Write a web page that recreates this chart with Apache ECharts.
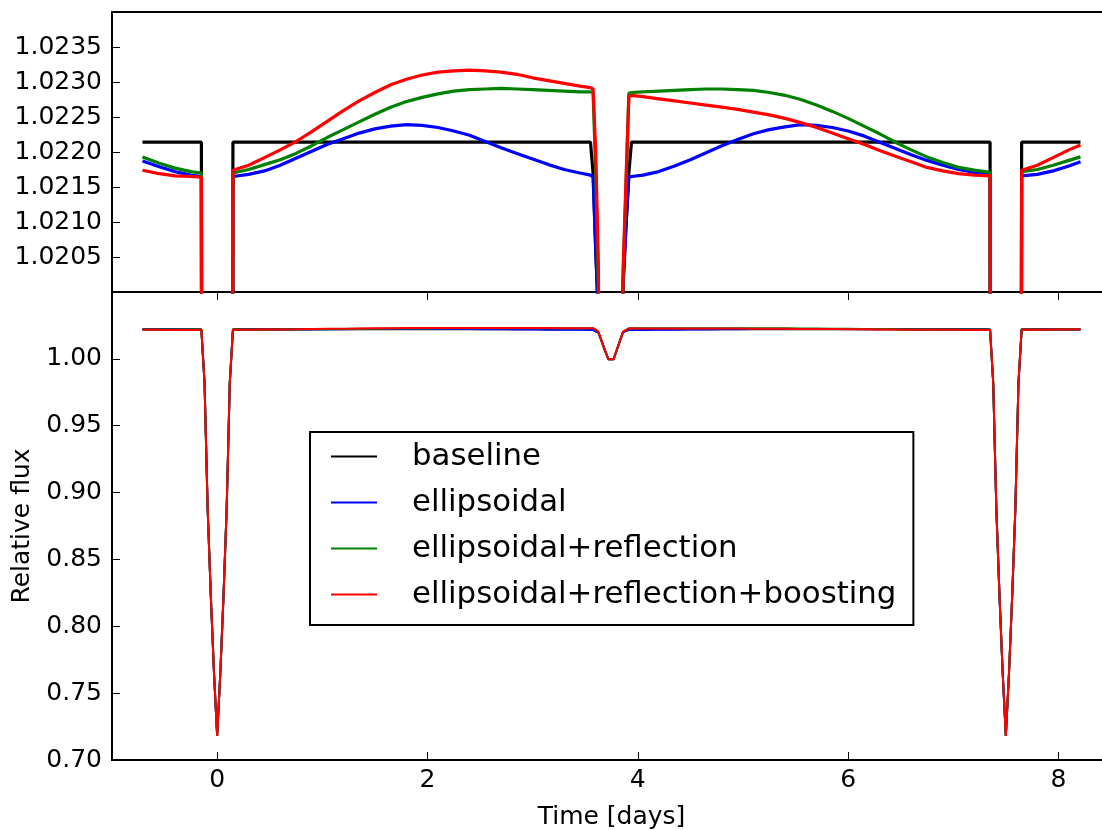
<!DOCTYPE html>
<html>
<head>
<meta charset="utf-8">
<script src="https://cdn.jsdelivr.net/npm/echarts@6/dist/echarts.min.js"></script>
<style>
html,body{margin:0;padding:0;background:#fff;}
#chart{width:1102px;height:830px;}
</style>
</head>
<body>
<div id="chart"></div>
<script>
// ---- data ----
const seriesNames = ['baseline', 'ellipsoidal', 'ellipsoidal+reflection', 'ellipsoidal+reflection+boosting'];
const xTickValues = [0, 2, 4, 6, 8];

const time = [
  -0.71, -0.55, -0.40, -0.25, -0.15,
  -0.12, -0.09, -0.06, -0.03, 0.00, 0.03, 0.06, 0.09, 0.12,
  0.15, 0.30, 0.45, 0.60, 0.75, 0.90, 1.05, 1.20, 1.35, 1.50, 1.65, 1.80,
  1.95, 2.10, 2.25, 2.40, 2.55, 2.70, 2.85, 3.00, 3.15, 3.30, 3.45,
  3.55, 3.575, 3.60, 3.625,
  3.65, 3.68, 3.72, 3.77, 3.80, 3.83,
  3.86, 3.89, 3.915, 3.94,
  4.05, 4.20, 4.35, 4.50, 4.65, 4.80, 4.95, 5.10, 5.25, 5.40, 5.55, 5.70,
  5.85, 6.00, 6.15, 6.30, 6.45, 6.60, 6.75, 6.90, 7.05, 7.20, 7.35,
  7.38, 7.41, 7.44, 7.47, 7.50, 7.53, 7.56, 7.59, 7.62,
  7.65, 7.80, 7.95, 8.10, 8.21
];

const primaryDip = [0.982, 0.887, 0.822, 0.765, 0.718, 0.765, 0.822, 0.887, 0.982];
const secondaryDip = [1.0146, 1.0080, 0.9997, 0.9997, 1.0066, 1.0135];

const baseline = [
  1.02214, 1.02214, 1.02214, 1.02214, 1.02214,
  ...primaryDip,
  1.02214, 1.02214, 1.02214, 1.02214, 1.02214, 1.02214, 1.02214, 1.02214, 1.02214, 1.02214, 1.02214, 1.02214,
  1.02214, 1.02214, 1.02214, 1.02214, 1.02214, 1.02214, 1.02214, 1.02214, 1.02214, 1.02214, 1.02214,
  1.02214, 1.0217, 1.0206, 1.0197,
  ...secondaryDip,
  1.0201, 1.0210, 1.0217, 1.02214,
  1.02214, 1.02214, 1.02214, 1.02214, 1.02214, 1.02214, 1.02214, 1.02214, 1.02214, 1.02214, 1.02214, 1.02214,
  1.02214, 1.02214, 1.02214, 1.02214, 1.02214, 1.02214, 1.02214, 1.02214, 1.02214, 1.02214, 1.02214,
  ...primaryDip,
  1.02214, 1.02214, 1.02214, 1.02214, 1.02214
];

const ellipsoidal = [
  1.02187, 1.02179, 1.02172, 1.02167, 1.02165,
  ...primaryDip,
  1.02165, 1.02168, 1.02173, 1.02181, 1.02191, 1.02201, 1.02211, 1.02219, 1.02227, 1.02233, 1.02237, 1.02239,
  1.02238, 1.02235, 1.02230, 1.02224, 1.02215, 1.02206, 1.02198, 1.02190, 1.02182, 1.02175, 1.02170,
  1.02167, 1.02164, 1.0206, 1.0196,
  ...secondaryDip,
  1.0201, 1.0210, 1.02164, 1.02165,
  1.02167, 1.02172, 1.02180, 1.02189, 1.02199, 1.02209, 1.02218, 1.02226, 1.02232, 1.02236, 1.02239, 1.02238,
  1.02235, 1.02230, 1.02223, 1.02214, 1.02205, 1.02196, 1.02188, 1.02181, 1.02175, 1.02171, 1.02167,
  ...primaryDip,
  1.02166, 1.02168, 1.02173, 1.02180, 1.02186
];

const ellRefl = [
  1.02193, 1.02184, 1.02177, 1.02172, 1.02170,
  ...primaryDip,
  1.02170, 1.02175, 1.02182, 1.02189, 1.02198, 1.02209, 1.02221, 1.02232, 1.02243, 1.02254, 1.02264, 1.02272,
  1.02278, 1.02283, 1.02287, 1.02289, 1.02290, 1.02291, 1.02290, 1.02289, 1.02288, 1.02287, 1.02286,
  1.02286, 1.02285, 1.0217, 1.0201,
  ...secondaryDip,
  1.0202, 1.0216, 1.02284, 1.02285,
  1.02286, 1.02287, 1.02288, 1.02289, 1.02290, 1.02290, 1.02289, 1.02288, 1.02285, 1.02281, 1.02275, 1.02267,
  1.02258, 1.02248, 1.02237, 1.02226, 1.02214, 1.02203, 1.02193, 1.02185, 1.02178, 1.02174, 1.02171,
  ...primaryDip,
  1.02172, 1.02175, 1.02181, 1.02188, 1.02193
];

const ellReflBoost = [
  1.02174, 1.02169, 1.02166, 1.02165, 1.02164,
  ...primaryDip,
  1.02174, 1.02181, 1.02192, 1.02203, 1.02215, 1.02229, 1.02244, 1.02259, 1.02273, 1.02285, 1.02296, 1.02304,
  1.02310, 1.02314, 1.02316, 1.02317, 1.02316, 1.02314, 1.02311, 1.02306, 1.02302, 1.02298, 1.02294,
  1.02292, 1.02290, 1.0220, 1.0204,
  ...secondaryDip,
  1.0203, 1.0217, 1.02279, 1.02281,
  1.02279, 1.02276, 1.02273, 1.02270, 1.02267, 1.02264, 1.02261, 1.02257, 1.02253, 1.02248, 1.02242, 1.02235,
  1.02227, 1.02219, 1.02211, 1.02202, 1.02194, 1.02186, 1.02178, 1.02173, 1.02169, 1.02167, 1.02166,
  ...primaryDip,
  1.02174, 1.02181, 1.02192, 1.02203, 1.02210
];

// ---- chart ----
const colors = ['#000000', '#0000ff', '#008000', '#ff0000'];
const fluxes = [baseline, ellipsoidal, ellRefl, ellReflBoost];
const FONT = 'DejaVu Sans';

function pairs(arr) { return time.map((t, i) => [t, arr[i]]); }

const series = [];
[0, 1].forEach(panel => {
  fluxes.forEach((f, k) => {
    series.push({
      name: seriesNames[k],
      type: 'line',
      xAxisIndex: panel === 0 ? 0 : 1,
      yAxisIndex: panel,
      data: pairs(f),
      showSymbol: false,
      symbol: 'none',
      clip: true,
      color: colors[k],
      lineStyle: { color: colors[k], width: panel === 0 ? 3.2 : 2 },
      itemStyle: { color: colors[k] },
      emphasis: { disabled: true },
      z: 2 + k
    });
  });
});

const tickStyle = { show: true, inside: true, length: 8, lineStyle: { color: '#000', width: 1 } };
const labelText = { fontFamily: FONT, fontSize: 25, color: '#000' };

const chart = echarts.init(document.getElementById('chart'), null, { renderer: 'canvas' });
chart.setOption({
  animation: false,
  backgroundColor: '#ffffff',
  textStyle: { fontFamily: FONT },
  grid: [
    { left: 112, top: 12, width: 999, height: 280, show: true, borderColor: '#000', borderWidth: 2,
      backgroundColor: 'transparent', outerBoundsMode: 'none', containLabel: false },
    { left: 112, top: 292, width: 999, height: 468, show: true, borderColor: '#000', borderWidth: 2,
      backgroundColor: 'transparent', outerBoundsMode: 'none', containLabel: false }
  ],
  xAxis: [
    { gridIndex: 0, type: 'value', min: -1, max: 8.5,
      axisLine: { show: false, onZero: false }, axisTick: { show: false }, axisLabel: { show: false }, splitLine: { show: false } },
    { gridIndex: 1, type: 'value', min: -1, max: 8.5, position: 'bottom',
      axisLine: { show: false, onZero: false },
      axisTick: Object.assign({}, tickStyle, { customValues: xTickValues }),
      axisLabel: Object.assign({}, labelText, { customValues: xTickValues, margin: 8 }),
      splitLine: { show: false },
      name: 'Time [days]', nameLocation: 'middle', nameGap: 45,
      nameTextStyle: labelText },
    { gridIndex: 1, type: 'value', min: -1, max: 8.5, position: 'top',
      axisLine: { show: false, onZero: false },
      axisTick: Object.assign({}, tickStyle, { customValues: xTickValues }),
      axisLabel: { show: false }, splitLine: { show: false } }
  ],
  yAxis: [
    { gridIndex: 0, type: 'value', min: 1.02, max: 1.024, interval: 0.0005, position: 'left',
      axisLine: { show: false, onZero: false }, axisTick: tickStyle,
      axisLabel: Object.assign({}, labelText, { margin: 10, showMinLabel: false, showMaxLabel: false,
        formatter: v => v.toFixed(4) }),
      splitLine: { show: false } },
    { gridIndex: 1, type: 'value', min: 0.7, max: 1.05, interval: 0.05, position: 'left',
      axisLine: { show: false, onZero: false }, axisTick: tickStyle,
      axisLabel: Object.assign({}, labelText, { margin: 10, showMaxLabel: false,
        formatter: v => v.toFixed(2) }),
      splitLine: { show: false },
      name: 'Relative flux', nameLocation: 'middle', nameGap: 70, nameRotate: 90,
      nameTextStyle: labelText }
  ],
  legend: {
    show: true,
    orient: 'vertical',
    left: 310, top: 432,
    data: seriesNames,
    selectedMode: false,
    icon: 'rect',
    itemWidth: 46, itemHeight: 2, itemGap: 15,
    padding: [9, 17, 15, 21],
    backgroundColor: '#ffffff',
    borderColor: '#000000', borderWidth: 2, borderRadius: 0,
    textStyle: { fontFamily: FONT, fontSize: 30.8, color: '#000', lineHeight: 30, padding: [0, 0, 0, 30] },
    z: 20
  },
  series: series
});
</script>
</body>
</html>
